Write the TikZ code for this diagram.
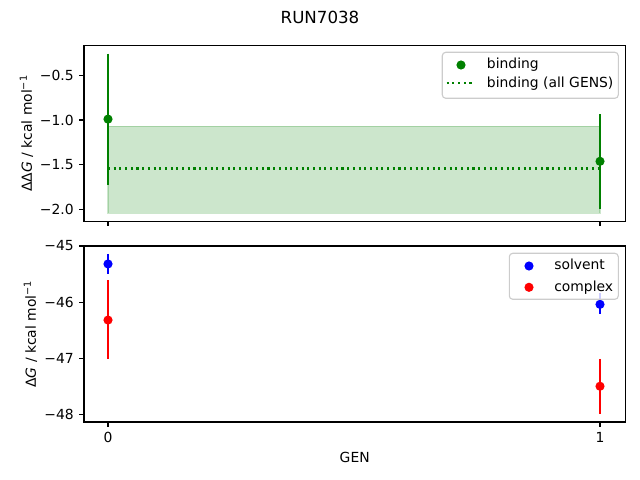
\documentclass[tikz,border=0pt]{standalone}
\usepackage{fontspec}
\setmainfont{DejaVu Sans}
\definecolor{mplgreen}{HTML}{008000}
\definecolor{mplblue}{HTML}{0000FF}
\definecolor{mplred}{HTML}{FF0000}
\definecolor{legendedge}{HTML}{CCCCCC}
\tikzset{
  axesframe/.style={line width=0.8pt},
  tickmark/.style={line width=0.8pt},
  ticklabel/.style={font=\fontsize{10}{12}\selectfont, inner sep=0pt},
  errbar/.style={line width=1.5pt},
  marker/.style={radius=3.3pt},
  dotline/.style={mplgreen, line width=1.5pt, dash pattern=on 1.5pt off 2.6pt},
  legendbox/.style={draw=legendedge, fill=white, fill opacity=0.8, line width=0.8pt, rounded corners=2.5pt},
  legendtext/.style={font=\fontsize{10}{12}\selectfont, anchor=west, inner sep=0pt, text height=7.6pt, text depth=2.1pt},
}
\begin{document}
\begin{tikzpicture}[x=0.72pt, y=-0.72pt]
	\useasboundingbox (0,0) rectangle (640,480);
	\node[font=\fontsize{12}{14}\selectfont] (title) at (320,17) {RUN7038};
	% top panel
	\begin{scope}[shift={(108,30.2)}, x=354.24pt, y=64.656pt]
		\fill[mplgreen, fill opacity=0.2] (0,-2.04) rectangle (1,-1.07);
		\draw[mplgreen, draw opacity=0.2, line width=1pt] (0,-2.04) rectangle (1,-1.07);
		\draw[dotline] (0,-1.54)--(1,-1.54);
		\draw[errbar, mplgreen] (0,-0.26)--(0,-1.72);
		\fill[mplgreen] (0,-0.99) circle[marker];
		\draw[errbar, mplgreen] (1,-0.935)--(1,-1.99);
		\fill[mplgreen] (1,-1.46) circle[marker];
		\draw[tickmark] (-0.0488,-0.5)--++(-3.5pt,0) node[ticklabel, anchor=east, xshift=-3.5pt] (ta) {−0.5};
		\draw[tickmark] (-0.0488,-1.0)--++(-3.5pt,0) node[ticklabel, anchor=east, xshift=-3.5pt] (tb) {−1.0};
		\draw[tickmark] (-0.0488,-1.5)--++(-3.5pt,0) node[ticklabel, anchor=east, xshift=-3.5pt] (tc) {−1.5};
		\draw[tickmark] (-0.0488,-2.0)--++(-3.5pt,0) node[ticklabel, anchor=east, xshift=-3.5pt] (td) {−2.0};
		\draw[tickmark] (0,-2.128)--++(0,-3.5pt);
		\draw[tickmark] (1,-2.128)--++(0,-3.5pt);
	\end{scope}
	\draw[axesframe] (84,45.3) rectangle (625.3,221.3);
	\node[font=\fontsize{10}{12}\selectfont, rotate=90, anchor=south, inner sep=0pt] (toplabel) at (33.5,133.3) {ΔΔ\textit{G} / kcal mol\textsuperscript{−1}};
	% top legend
	\draw[legendbox] (442.3,52.3) rectangle (618.3,98.3);
	\fill[mplgreen] (461,65) circle[marker];
	\draw[dotline] (446.7,83.3)--(474.3,83.3);
	\node[legendtext] (lbinding) at (486.7,65) {binding};
	\node[legendtext] (lall) at (486.7,83.3) {binding (all GENS)};
	% bottom panel
	\begin{scope}[shift={(108,-2278.5)}, x=354.24pt, y=40.392pt]
		\draw[errbar, mplred] (0,-45.61)--(0,-47.01);
		\fill[mplred] (0,-46.32) circle[marker];
		\draw[errbar, mplred] (1,-47.01)--(1,-47.99);
		\fill[mplred] (1,-47.50) circle[marker];
		\draw[errbar, mplblue] (0,-45.14)--(0,-45.50);
		\fill[mplblue] (0,-45.32) circle[marker];
		\draw[errbar, mplblue] (1,-45.84)--(1,-46.22);
		\fill[mplblue] (1,-46.04) circle[marker];
		\draw[tickmark] (-0.0488,-45)--++(-3.5pt,0) node[ticklabel, anchor=east, xshift=-3.5pt] (ba) {−45};
		\draw[tickmark] (-0.0488,-46)--++(-3.5pt,0) node[ticklabel, anchor=east, xshift=-3.5pt] (bb) {−46};
		\draw[tickmark] (-0.0488,-47)--++(-3.5pt,0) node[ticklabel, anchor=east, xshift=-3.5pt] (bc) {−47};
		\draw[tickmark] (-0.0488,-48)--++(-3.5pt,0) node[ticklabel, anchor=east, xshift=-3.5pt] (bd) {−48};
		\draw[tickmark] (0,-48.136)--++(0,-3.5pt) node[ticklabel, anchor=north, yshift=-3.5pt] (g0) {0};
		\draw[tickmark] (1,-48.136)--++(0,-3.5pt) node[ticklabel, anchor=north, yshift=-3.5pt] (g1) {1};
	\end{scope}
	\draw[axesframe] (84,246) rectangle (625.3,422);
	\node[font=\fontsize{10}{12}\selectfont, rotate=90, anchor=south, inner sep=0pt] (botlabel) at (37.5,334) {Δ\textit{G} / kcal mol\textsuperscript{−1}};
	\node[font=\fontsize{10}{12}\selectfont] (xlabel) at (354.7,457) {GEN};
	% bottom legend
	\draw[legendbox] (509.3,253.3) rectangle (618.3,299.3);
	\fill[mplblue] (529,266) circle[marker];
	\fill[mplred] (529,287.3) circle[marker];
	\node[legendtext] (lsolvent) at (554,266) {solvent};
	\node[legendtext] (lcomplex) at (554,287.3) {complex};
\end{tikzpicture}
\end{document}
